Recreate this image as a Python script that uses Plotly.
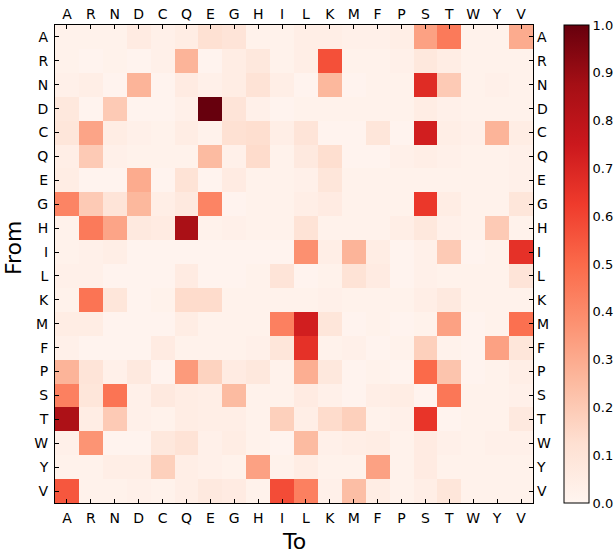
import plotly.graph_objects as go

amino = ["A", "R", "N", "D", "C", "Q", "E", "G", "H", "I",
         "L", "K", "M", "F", "P", "S", "T", "W", "Y", "V"]

# rows = From, columns = To (order as amino)
row_A = [0.02, 0.02, 0.02, 0.06, 0.03, 0.05, 0.12, 0.10, 0.02, 0.02, 0.04, 0.04, 0.03, 0.03, 0.04, 0.33, 0.45, 0.02, 0.02, 0.30]
row_R = [0.02, 0.01, 0.02, 0.01, 0.03, 0.27, 0.01, 0.05, 0.08, 0.02, 0.04, 0.57, 0.02, 0.02, 0.03, 0.08, 0.05, 0.02, 0.02, 0.02]
row_N = [0.03, 0.04, 0.01, 0.27, 0.01, 0.06, 0.03, 0.05, 0.11, 0.04, 0.01, 0.26, 0.01, 0.02, 0.02, 0.68, 0.20, 0.02, 0.03, 0.02]
row_D = [0.08, 0.01, 0.20, 0.01, 0.01, 0.03, 1.00, 0.10, 0.03, 0.01, 0.02, 0.02, 0.02, 0.02, 0.02, 0.05, 0.03, 0.02, 0.02, 0.02]
row_C = [0.09, 0.32, 0.05, 0.03, 0.02, 0.05, 0.02, 0.12, 0.13, 0.04, 0.10, 0.01, 0.01, 0.09, 0.01, 0.73, 0.04, 0.03, 0.27, 0.05]
row_Q = [0.04, 0.20, 0.03, 0.02, 0.02, 0.02, 0.25, 0.03, 0.14, 0.02, 0.07, 0.13, 0.01, 0.01, 0.03, 0.04, 0.03, 0.02, 0.02, 0.03]
row_E = [0.05, 0.01, 0.01, 0.30, 0.01, 0.11, 0.01, 0.06, 0.02, 0.02, 0.03, 0.09, 0.02, 0.02, 0.02, 0.02, 0.02, 0.02, 0.02, 0.03]
row_G = [0.42, 0.20, 0.10, 0.26, 0.04, 0.07, 0.42, 0.01, 0.02, 0.02, 0.04, 0.06, 0.02, 0.02, 0.02, 0.64, 0.05, 0.02, 0.02, 0.09]
row_H = [0.02, 0.45, 0.32, 0.07, 0.06, 0.86, 0.02, 0.03, 0.02, 0.02, 0.11, 0.02, 0.02, 0.02, 0.04, 0.08, 0.03, 0.02, 0.20, 0.02]
row_I = [0.02, 0.03, 0.04, 0.01, 0.01, 0.01, 0.01, 0.01, 0.01, 0.01, 0.38, 0.04, 0.27, 0.05, 0.01, 0.03, 0.20, 0.01, 0.02, 0.66]
row_L = [0.03, 0.03, 0.01, 0.01, 0.01, 0.06, 0.01, 0.01, 0.02, 0.10, 0.01, 0.02, 0.11, 0.06, 0.01, 0.03, 0.02, 0.02, 0.02, 0.10]
row_K = [0.02, 0.47, 0.09, 0.01, 0.02, 0.14, 0.14, 0.02, 0.02, 0.02, 0.02, 0.03, 0.02, 0.02, 0.02, 0.04, 0.07, 0.02, 0.02, 0.02]
row_M = [0.05, 0.05, 0.01, 0.01, 0.01, 0.05, 0.02, 0.02, 0.02, 0.43, 0.73, 0.09, 0.01, 0.02, 0.01, 0.02, 0.33, 0.01, 0.02, 0.48]
row_F = [0.03, 0.01, 0.01, 0.01, 0.06, 0.02, 0.02, 0.02, 0.03, 0.09, 0.66, 0.02, 0.03, 0.01, 0.02, 0.18, 0.02, 0.01, 0.33, 0.09]
row_P = [0.27, 0.10, 0.03, 0.07, 0.01, 0.35, 0.17, 0.06, 0.08, 0.02, 0.29, 0.08, 0.01, 0.02, 0.01, 0.50, 0.22, 0.01, 0.02, 0.04]
row_S = [0.43, 0.09, 0.47, 0.03, 0.07, 0.05, 0.04, 0.25, 0.02, 0.02, 0.06, 0.03, 0.01, 0.04, 0.05, 0.01, 0.46, 0.02, 0.02, 0.03]
row_T = [0.85, 0.05, 0.20, 0.03, 0.02, 0.05, 0.04, 0.04, 0.02, 0.18, 0.04, 0.14, 0.18, 0.02, 0.03, 0.65, 0.01, 0.02, 0.02, 0.07]
row_W = [0.03, 0.37, 0.01, 0.01, 0.08, 0.11, 0.03, 0.05, 0.02, 0.01, 0.25, 0.03, 0.04, 0.05, 0.02, 0.06, 0.03, 0.02, 0.03, 0.03]
row_Y = [0.02, 0.02, 0.04, 0.04, 0.18, 0.04, 0.03, 0.02, 0.33, 0.02, 0.05, 0.02, 0.02, 0.33, 0.02, 0.06, 0.02, 0.02, 0.02, 0.02]
row_V = [0.55, 0.02, 0.02, 0.03, 0.02, 0.04, 0.07, 0.06, 0.02, 0.58, 0.43, 0.03, 0.24, 0.05, 0.02, 0.04, 0.09, 0.02, 0.02, 0.02]

z = [row_A, row_R, row_N, row_D, row_C, row_Q, row_E, row_G, row_H, row_I,
     row_L, row_K, row_M, row_F, row_P, row_S, row_T, row_W, row_Y, row_V]

cbar_ticks = [0.0, 0.1, 0.2, 0.3, 0.4, 0.5, 0.6, 0.7, 0.8, 0.9, 1.0]

reds = [[0.0, "#fff5f0"], [0.125, "#fee0d2"], [0.25, "#fcbba1"], [0.375, "#fc9272"],
        [0.5, "#fb6a4a"], [0.625, "#ef3b2c"], [0.75, "#cb181d"], [0.875, "#a50f15"],
        [1.0, "#67000d"]]

idx = list(range(len(amino)))
FONT = "DejaVu Sans"

W, H = 615, 554
L, T = 55, 25
PW, PH = 478, 478
R = W - L - PW
B = H - T - PH


def px_x(px):
    return (px - L) / PW


def px_y(py):
    return (H - B - py) / PH


fig = go.Figure()
fig.add_trace(go.Heatmap(
    z=z, x=idx, y=idx, zmin=0, zmax=1, colorscale=reds,
    colorbar=dict(
        x=px_x(564), xref="paper", xanchor="left", xpad=0,
        y=0.5, yanchor="middle", len=1, lenmode="fraction", ypad=0,
        thickness=25, outlinewidth=1, outlinecolor="black",
        tickvals=cbar_ticks, ticktext=[f"{v:.1f}" for v in cbar_ticks],
        ticks="", tickfont=dict(family=FONT, size=13, color="black"),
    ),
))
fig.add_trace(go.Scatter(x=[None], y=[None], xaxis="x2", yaxis="y2",
                         showlegend=False, hoverinfo="skip"))

axis_common = dict(
    tickmode="array", tickvals=idx, ticktext=amino,
    tickfont=dict(family=FONT, size=14, color="black"),
    showgrid=False, zeroline=False, automargin=False,
)

fig.update_layout(
    template="none",
    width=W, height=H,
    margin=dict(l=L, r=R, t=T, b=B, autoexpand=False),
    paper_bgcolor="white", plot_bgcolor="white",
    font=dict(family=FONT, color="black"),
    showlegend=False,
    xaxis=dict(**axis_common, range=[-0.5, 19.5], side="bottom",
               ticks="inside", ticklen=4, tickcolor="black", tickwidth=1,
               showline=True, linecolor="black", linewidth=1, mirror="ticks",
               ticklabelstandoff=2),
    yaxis=dict(**axis_common, range=[19.5, -0.5], side="left",
               ticks="inside", ticklen=4, tickcolor="black", tickwidth=1,
               showline=True, linecolor="black", linewidth=1, mirror="ticks",
               ticklabelstandoff=3),
    xaxis2=dict(**axis_common, range=[-0.5, 19.5], side="top", overlaying="x",
                ticks="", showline=False, ticklabelstandoff=2),
    yaxis2=dict(**axis_common, range=[19.5, -0.5], side="right", overlaying="y",
                ticks="", showline=False, ticklabelstandoff=3),
    annotations=[
        dict(text="To", xref="paper", yref="paper", x=0.5, y=px_y(541),
             xanchor="center", yanchor="middle", showarrow=False,
             font=dict(family=FONT, size=22, color="black")),
        dict(text="From", xref="paper", yref="paper", x=px_x(13), y=px_y(248),
             xanchor="center", yanchor="middle", showarrow=False, textangle=-90,
             font=dict(family=FONT, size=22, color="black")),
    ],
)

fig.write_html("out.html",
               config={"displayModeBar": False},
               post_script="document.body.style.margin='0';")
